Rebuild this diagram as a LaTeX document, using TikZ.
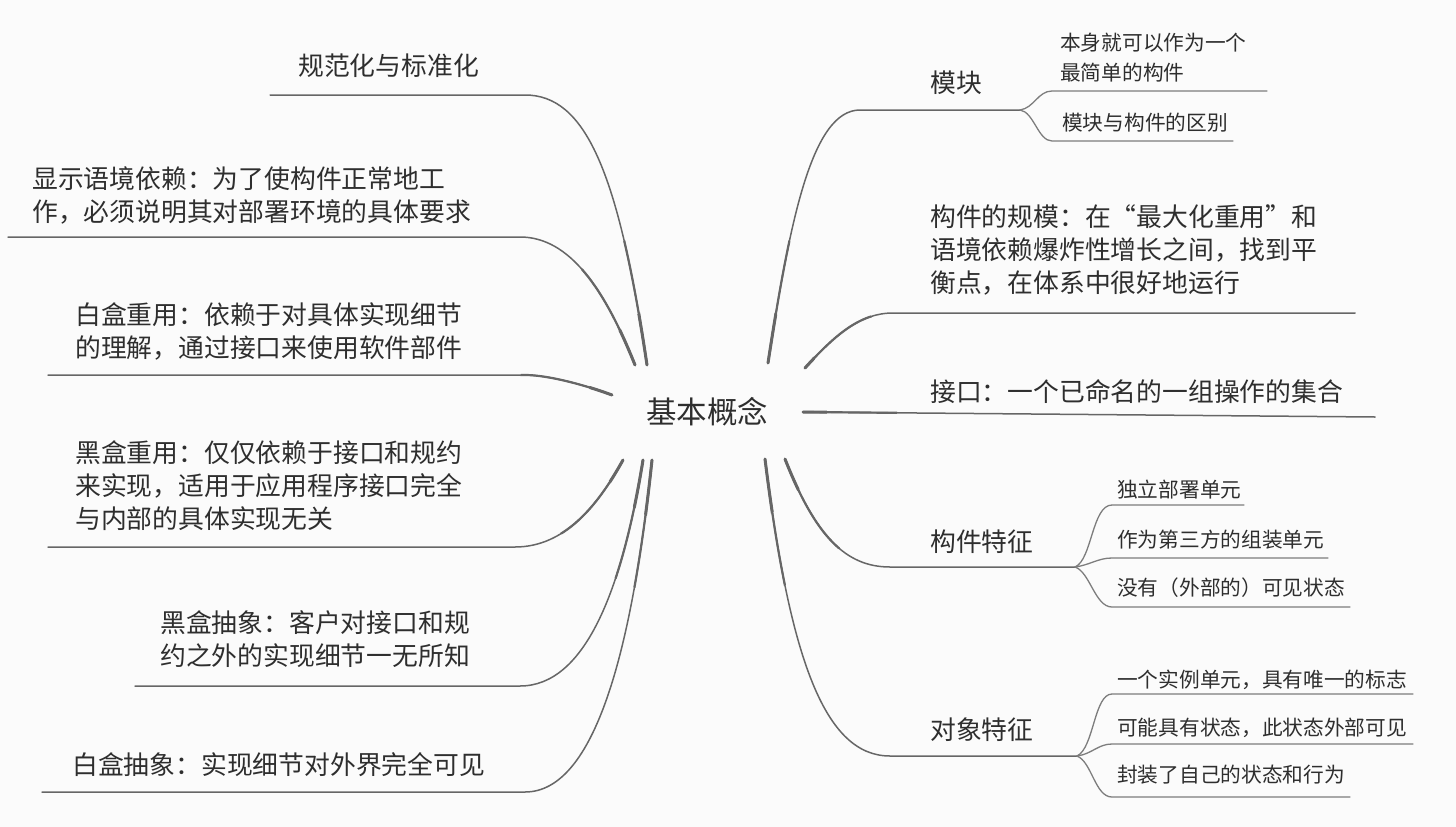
\documentclass[tikz,border=0pt]{standalone}
\usepackage{fontspec}
\setmainfont{Noto Sans CJK SC}
\definecolor{ink}{HTML}{2E2E2E}
\definecolor{branch}{HTML}{666666}
\definecolor{paper}{HTML}{FBFBFB}
\newcommand\mybranchpaths{%
  \draw[branchline] (a1) .. controls (618,170) and (585,95) .. (k1) -- (e1);
  \draw[branchline] (a2) .. controls (605,290) and (570,237) .. (k2) -- (e2);
  \draw[branchline] (a3) .. controls (585,385) and (548,375) .. (k3) -- (e3);
  \draw[branchline] (a4) .. controls (598,505) and (565,547) .. (k4) -- (e4);
  \draw[branchline] (a5) .. controls (622,590) and (585,686) .. (k5) -- (e5);
  \draw[branchline] (a6) .. controls (632,650) and (595,792) .. (k6) -- (e6);
  \draw[branchline] (b1) .. controls (790,220) and (812,110) .. (j1) -- (f1);
  \draw[branchline] (b2) .. controls (835,335) and (860,313) .. (j2) -- (f2);
  \draw[branchline] (b3) -- (f3);
  \draw[branchline] (b4) .. controls (815,535) and (845,567) .. (j4) -- (f4);
  \draw[branchline] (b5) .. controls (790,660) and (825,756) .. (j5) -- (f5);}
\begin{document}
\begin{tikzpicture}[x=1pt,y=-1pt,
  main/.style={anchor=west, inner sep=0pt, align=left, font=\fontsize{25.8}{33}\selectfont, text=ink},
  sub/.style={anchor=west, inner sep=0pt, align=left, font=\fontsize{20.7}{30}\selectfont, text=ink},
  rootnode/.style={inner sep=0pt, font=\fontsize{30.5}{36}\selectfont, text=ink},
  branchline/.style={draw=branch, line width=1.5pt, line cap=round},
  leafline/.style={draw=branch!85, line width=1.3pt, line cap=round}]
\fill[paper] (0,0) rectangle (1456,827);
\useasboundingbox (0,0) rectangle (1456,827);

% root
\node[rootnode] (root) at (707,412) {基本概念};

% left texts
\node[main] (n1) at (298,66) {规范化与标准化};
\node[main] (n2) at (32,195.5) {显示语境依赖：为了使构件正常地工\\作，必须说明其对部署环境的具体要求};
\node[main] (n3) at (75,331) {白盒重用：依赖于对具体实现细节\\的理解，通过接口来使用软件部件};
\node[main] (n4) at (75,486) {黑盒重用：仅仅依赖于接口和规约\\来实现，适用于应用程序接口完全\\与内部的具体实现无关};
\node[main] (n5) at (160,639) {黑盒抽象：客户对接口和规\\约之外的实现细节一无所知};
\node[main] (n6) at (72,765) {白盒抽象：实现细节对外界完全可见};

% right texts
\node[main] (m1) at (930,83) {模块};
\node[main] (m2) at (930,250) {构件的规模：在“最大化重用”和\\语境依赖爆炸性增长之间，找到平\\衡点，在体系中很好地运行};
\node[main] (m3) at (930,392) {接口：一个已命名的一组操作的集合};
\node[main] (m4) at (930,542) {构件特征};
\node[main] (m5) at (930,730) {对象特征};

\node[sub] (s11) at (1060,58) {本身就可以作为一个\\最简单的构件};
\node[sub] (s12) at (1062,123) {模块与构件的区别};
\node[sub] (s41) at (1117,490) {独立部署单元};
\node[sub] (s42) at (1117,540) {作为第三方的组装单元};
\node[sub] (s43) at (1117,588) {没有（外部的）可见状态};
\node[sub] (s51) at (1117,680) {一个实例单元，具有唯一的标志};
\node[sub] (s52) at (1117,728) {可能具有状态，此状态外部可见};
\node[sub] (s53) at (1117,775) {封装了自己的状态和行为};

% coordinates: start near root, knee, end of underline
\coordinate (a1) at (647,365); \coordinate (k1) at (525,95);  \coordinate (e1) at (270,95);
\coordinate (a2) at (635,365); \coordinate (k2) at (520,237); \coordinate (e2) at (8,237);
\coordinate (a3) at (612,395); \coordinate (k3) at (525,375); \coordinate (e3) at (48,375);
\coordinate (a4) at (623,460); \coordinate (k4) at (515,547); \coordinate (e4) at (48,547);
\coordinate (a5) at (643,460); \coordinate (k5) at (520,686); \coordinate (e5) at (135,686);
\coordinate (a6) at (652,460); \coordinate (k6) at (525,792); \coordinate (e6) at (42,792);

\coordinate (b1) at (768,363); \coordinate (j1) at (860,110); \coordinate (f1) at (1020,110);
\coordinate (b2) at (805,368); \coordinate (j2) at (893,313); \coordinate (f2) at (1355,313);
\coordinate (b3) at (803,412); \coordinate (f3) at (1375,417);
\coordinate (b4) at (785,459); \coordinate (j4) at (890,567); \coordinate (f4) at (1075,567);
\coordinate (b5) at (765,459); \coordinate (j5) at (890,756); \coordinate (f5) at (1077,756);

% main branches, thicker towards the root
\mybranchpaths
\begin{scope}[branchline/.append style={line width=2.2pt}]
  \clip (root) circle (190);
  \mybranchpaths
\end{scope}
\begin{scope}[branchline/.append style={line width=3pt}]
  \clip (root) circle (120);
  \mybranchpaths
\end{scope}

% sub-branches of 模块
\coordinate (g11) at (1052,91);  \coordinate (h11) at (1267,91);
\coordinate (g12) at (1052,141); \coordinate (h12) at (1233,141);
\draw[leafline] (f1) .. controls (1034,108) and (1038,91) .. (g11) -- (h11);
\draw[leafline] (f1) .. controls (1034,112) and (1038,141) .. (g12) -- (h12);

% sub-branches of 构件特征
\coordinate (g41) at (1112,505); \coordinate (h41) at (1244,505);
\coordinate (g42) at (1112,558); \coordinate (h42) at (1328,558);
\coordinate (g43) at (1112,607); \coordinate (h43) at (1350,607);
\draw[leafline] (f4) .. controls (1092,560) and (1092,505) .. (g41) -- (h41);
\draw[leafline] (f4) .. controls (1090,565) and (1098,558) .. (g42) -- (h42);
\draw[leafline] (f4) .. controls (1090,572) and (1095,607) .. (g43) -- (h43);

% sub-branches of 对象特征
\coordinate (g51) at (1112,694); \coordinate (h51) at (1413,694);
\coordinate (g52) at (1112,744); \coordinate (h52) at (1413,744);
\coordinate (g53) at (1112,797); \coordinate (h53) at (1350,797);
\draw[leafline] (f5) .. controls (1094,748) and (1094,694) .. (g51) -- (h51);
\draw[leafline] (f5) .. controls (1092,754) and (1098,744) .. (g52) -- (h52);
\draw[leafline] (f5) .. controls (1092,762) and (1095,797) .. (g53) -- (h53);
\end{tikzpicture}
\end{document}
